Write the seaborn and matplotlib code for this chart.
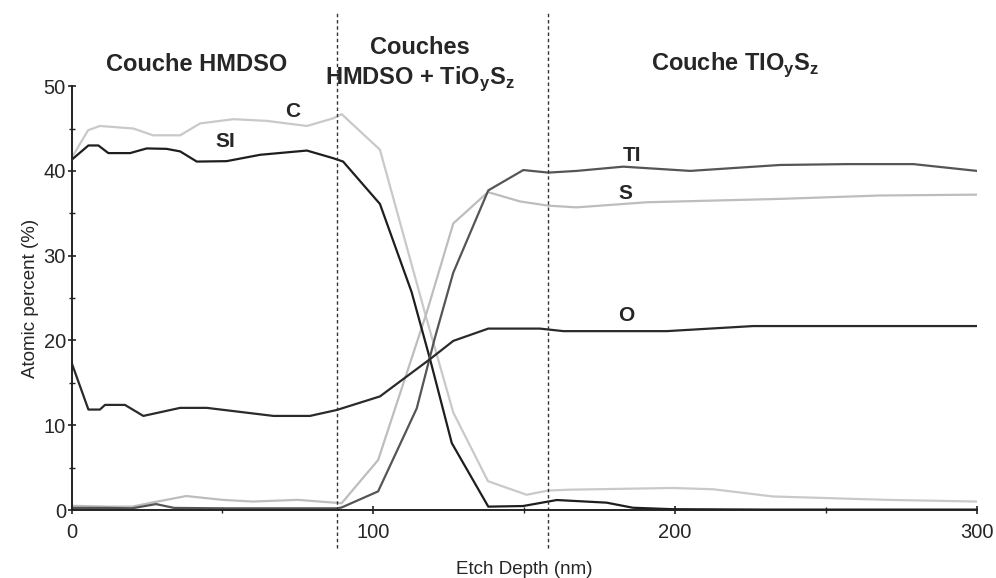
import pandas as pd
import matplotlib
matplotlib.use('Agg')
import matplotlib.pyplot as plt
import seaborn as sns

# profondeur (nm) et pourcentage atomique
c_depth = [0, 5.5, 9.4, 20.5, 27, 36, 42.6, 53.6, 64.7, 78, 86.7, 89.5, 102.2, 117.7, 126.5,
           138, 150.8, 158, 165, 199.3, 212.6, 232.4, 270, 300]
c_val = [41.5, 44.8, 45.3, 45.0, 44.2, 44.2, 45.6, 46.1, 45.9, 45.3, 46.2, 46.7, 42.5, 22.5, 11.5,
         3.4, 1.8, 2.3, 2.4, 2.6, 2.45, 1.6, 1.2, 1.0]

s_depth = [0, 12, 20, 27, 38, 50, 60, 75, 86, 89.5, 101.6, 117.7, 126.5, 138, 148.6, 158,
           167.4, 190.6, 234.8, 268, 300]
s_val = [0.5, 0.4, 0.4, 0.9, 1.65, 1.2, 1.0, 1.2, 0.9, 0.8, 5.9, 23.3, 33.8, 37.5, 36.4, 35.9,
         35.7, 36.3, 36.7, 37.1, 37.2]

si_depth = [0, 5.6, 8.9, 12.2, 19.4, 24.9, 31.5, 36, 41.5, 51.4, 62.5, 78, 86.7, 90, 102.2,
            112.7, 118.8, 126, 138.1, 149.6, 160.8, 177.3, 186, 199, 230, 300]
si_val = [41.3, 43.0, 43.0, 42.1, 42.1, 42.65, 42.6, 42.3, 41.1, 41.15, 41.9, 42.4, 41.5, 41.1,
          36.1, 25.7, 17.8, 7.9, 0.4, 0.47, 1.18, 0.87, 0.27, 0.1, 0.05, 0.05]

ti_depth = [0, 12, 20, 28, 34, 50, 70, 88, 89.5, 101.6, 114.4, 120.4, 126.5, 138.1, 149.7, 158,
            167.4, 182.8, 205, 234.8, 256.9, 279, 300]
ti_val = [0.25, 0.25, 0.2, 0.7, 0.25, 0.2, 0.2, 0.2, 0.3, 2.2, 12.0, 20.3, 28.0, 37.7, 40.1, 39.8,
          40.0, 40.5, 40.0, 40.7, 40.8, 40.8, 40.0]

o_depth = [0, 5.6, 9.4, 11.1, 17.7, 23.8, 36, 44.8, 66.9, 79, 87.9, 102.2, 118.8, 126.5, 138.1,
           155.2, 163, 197.2, 225.9, 300]
o_val = [17.4, 11.85, 11.85, 12.4, 12.4, 11.1, 12.05, 12.05, 11.1, 11.1, 11.8, 13.4, 17.8, 19.95,
         21.4, 21.4, 21.1, 21.1, 21.7, 21.7]

interfaces = [88, 158]

sns.set_theme(style='ticks')
plt.rcParams['font.family'] = ['Liberation Sans', 'DejaVu Sans']
plt.rcParams['mathtext.fontset'] = 'custom'
plt.rcParams['mathtext.bf'] = 'Liberation Sans:bold'
plt.rcParams['mathtext.rm'] = 'Liberation Sans'

# tableau long
frames = []
for name, d, v in [('C', c_depth, c_val), ('S', s_depth, s_val), ('Si', si_depth, si_val),
                   ('Ti', ti_depth, ti_val), ('O', o_depth, o_val)]:
    frames.append(pd.DataFrame({'depth': d, 'pct': v, 'elem': name}))
df = pd.concat(frames, ignore_index=True)

palette = {'C': '#c9c9c9', 'S': '#bdbdbd', 'Si': '#1e1e1e', 'Ti': '#555555', 'O': '#2a2a2a'}

fig = plt.figure(figsize=(9.96, 5.78), dpi=100)
ax = fig.add_axes([0.0718, 0.1176, 0.909, 0.7334])

sns.lineplot(data=df, x='depth', y='pct', hue='elem', palette=palette, estimator=None,
             linewidth=1.6, legend=False, ax=ax)

ax.set_xlim(0, 300)
ax.set_ylim(0, 50)
ax.set_xticks([0, 100, 200, 300])
ax.set_xticks([50, 150, 250], minor=True)
ax.set_yticks([0, 10, 20, 30, 40, 50])
ax.set_yticks([5, 15, 25, 35, 45], minor=True)
ax.tick_params(axis='both', which='major', direction='inout', length=6, width=1.2,
               labelsize=14.5, color='#222222')
ax.tick_params(axis='both', which='minor', direction='inout', length=5, width=1.0, color='#222222')
ax.tick_params(axis='x', pad=6)
ax.tick_params(axis='y', pad=1)
sns.despine(ax=ax)
for sp in ['left', 'bottom']:
    ax.spines[sp].set_linewidth(1.4)
    ax.spines[sp].set_color('#222222')

ax.set_xlabel('Etch Depth (nm)', fontsize=13.5, labelpad=14)
ax.set_ylabel('Atomic percent (%)', fontsize=13.5, labelpad=3)

# interfaces entre couches
ax.vlines(interfaces, -4.5, 58.6, colors='#333333', linestyles=(0, (2.5, 2)), linewidth=1,
          clip_on=False)

# noms des elements
lab = dict(fontsize=15, fontweight='bold', ha='center', va='center')
ax.text(73.2, 47.0, 'C', **lab)
ax.text(50.9, 43.5, 'SI', **lab)
ax.text(185.7, 41.8, 'TI', **lab)
ax.text(183.7, 37.3, 'S', **lab)
ax.text(183.7, 22.9, 'O', **lab)

# titres des zones
hdr = dict(fontsize=17, fontweight='bold', ha='center', va='center', clip_on=False)
ax.text(41.6, 52.6, 'Couche HMDSO', **hdr)
ax.text(115.5, 54.5, 'Couches', **hdr)
ax.text(115.5, 50.9, r'HMDSO + TiO$_\mathbf{y}$S$_\mathbf{z}$', **hdr)
ax.text(219.8, 52.5, r'Couche TIO$_\mathbf{y}$S$_\mathbf{z}$', **hdr)

fig.savefig('out.png', dpi=100, facecolor='white')
